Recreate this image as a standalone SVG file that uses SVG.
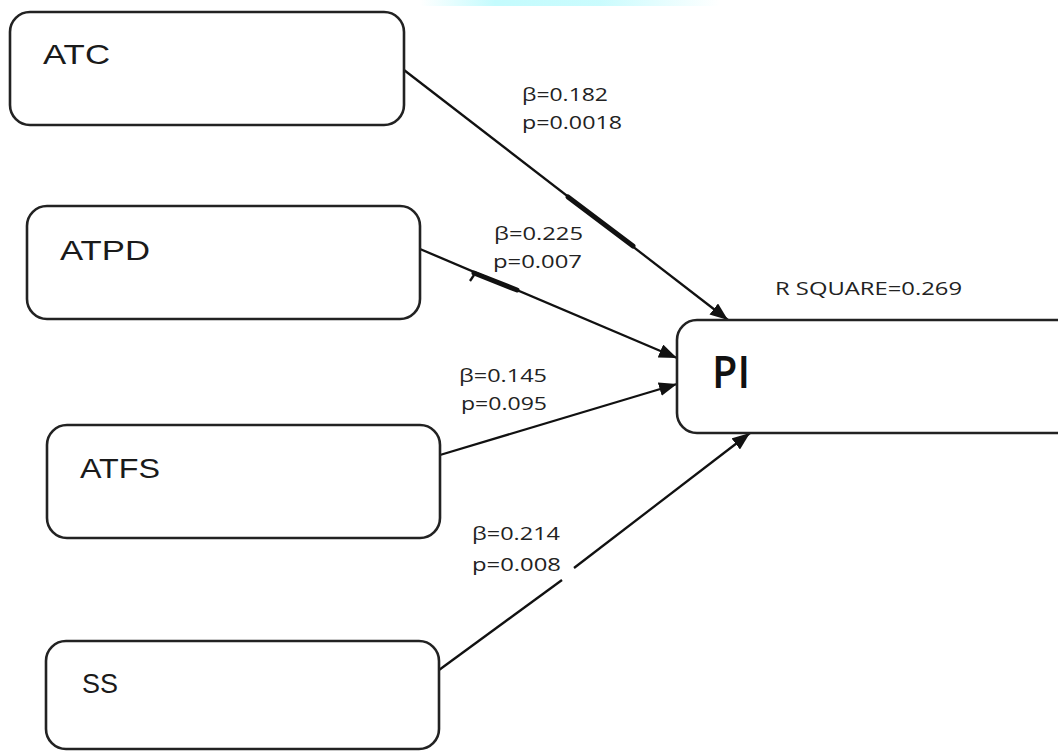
<svg xmlns="http://www.w3.org/2000/svg" width="1058" height="751" viewBox="0 0 1058 751">
<style>
.box{fill:#fff;stroke:#222;stroke-width:2.6}
.nl{font-family:"Liberation Sans",Arial,sans-serif;font-size:28px;fill:#1a1a1a}
.pi{font-family:"Open Sans","Liberation Sans",sans-serif;font-weight:600;font-size:45px;fill:#111}
.lb{font-family:"Open Sans","Liberation Sans",sans-serif;font-size:18px;fill:#222}
.cn{stroke:#111;stroke-width:2.3;fill:none}
.th{stroke:#111;stroke-width:5;stroke-linecap:round}
</style>
<defs>
<marker id="ah" viewBox="0 0 18 14" refX="18" refY="7" markerWidth="18" markerHeight="14" markerUnits="userSpaceOnUse" orient="auto">
<path d="M0,0 L18,7 L0,14 z" fill="#111"/>
</marker>
<linearGradient id="cy" x1="0" x2="1" y1="0" y2="0">
<stop offset="0" stop-color="#c4fbfd" stop-opacity="0"/>
<stop offset="0.25" stop-color="#c4fbfd" stop-opacity="1"/>
<stop offset="0.6" stop-color="#c4fbfd" stop-opacity="0.9"/>
<stop offset="1" stop-color="#c4fbfd" stop-opacity="0"/>
</linearGradient>
</defs>
<rect x="0" y="0" width="1058" height="751" fill="#fff"/>
<rect x="420" y="0" width="300" height="6" fill="url(#cy)"/>

<g id="connectors">
<line class="cn" x1="404" y1="70" x2="728" y2="320" marker-end="url(#ah)"/>
<line class="th" x1="568" y1="197" x2="633" y2="246"/>
<line class="cn" x1="420" y1="249" x2="677" y2="358" marker-end="url(#ah)"/>
<line class="th" x1="474" y1="273" x2="517" y2="290"/>
<path class="cn" d="M470,281 l4,-6"/>
<line class="cn" x1="440" y1="455" x2="677" y2="384" marker-end="url(#ah)"/>
<line class="cn" x1="439" y1="670" x2="562" y2="580"/>
<line class="cn" x1="574" y1="568" x2="750" y2="433" marker-end="url(#ah)"/>
</g>

<g id="node-ATC">
<rect class="box" x="10" y="12" width="394" height="113" rx="20"/>
<text class="nl" x="43" y="64" textLength="67" lengthAdjust="spacingAndGlyphs">ATC</text>
</g>
<g id="node-ATPD">
<rect class="box" x="27" y="206" width="393" height="113" rx="20"/>
<text class="nl" x="60" y="260" textLength="90" lengthAdjust="spacingAndGlyphs">ATPD</text>
</g>
<g id="node-ATFS">
<rect class="box" x="47" y="425" width="393" height="113" rx="20"/>
<text class="nl" x="80" y="478" textLength="80" lengthAdjust="spacingAndGlyphs">ATFS</text>
</g>
<g id="node-SS">
<rect class="box" x="46" y="641" width="393" height="108" rx="20"/>
<text class="nl" x="82" y="693" textLength="36" lengthAdjust="spacingAndGlyphs">SS</text>
</g>
<g id="node-PI">
<rect class="box" x="677" y="320" width="400" height="113" rx="20"/>
<text class="pi" x="712" y="388" textLength="38" lengthAdjust="spacingAndGlyphs">PI</text>
</g>

<g id="labels">
<text class="lb" x="522" y="101" textLength="86" lengthAdjust="spacingAndGlyphs">β=0.182</text>
<text class="lb" x="522" y="129" textLength="100" lengthAdjust="spacingAndGlyphs">p=0.0018</text>
<text class="lb" x="494" y="240" textLength="89" lengthAdjust="spacingAndGlyphs">β=0.225</text>
<text class="lb" x="493" y="268" textLength="89" lengthAdjust="spacingAndGlyphs">p=0.007</text>
<text class="lb" x="459" y="382" textLength="88" lengthAdjust="spacingAndGlyphs">β=0.145</text>
<text class="lb" x="461" y="410" textLength="86" lengthAdjust="spacingAndGlyphs">p=0.095</text>
<text class="lb" x="472" y="540" textLength="88" lengthAdjust="spacingAndGlyphs">β=0.214</text>
<text class="lb" x="472" y="571" textLength="89" lengthAdjust="spacingAndGlyphs">p=0.008</text>
<text class="lb" x="775" y="295" textLength="187" lengthAdjust="spacingAndGlyphs">R SQUARE=0.269</text>
</g>
</svg>
